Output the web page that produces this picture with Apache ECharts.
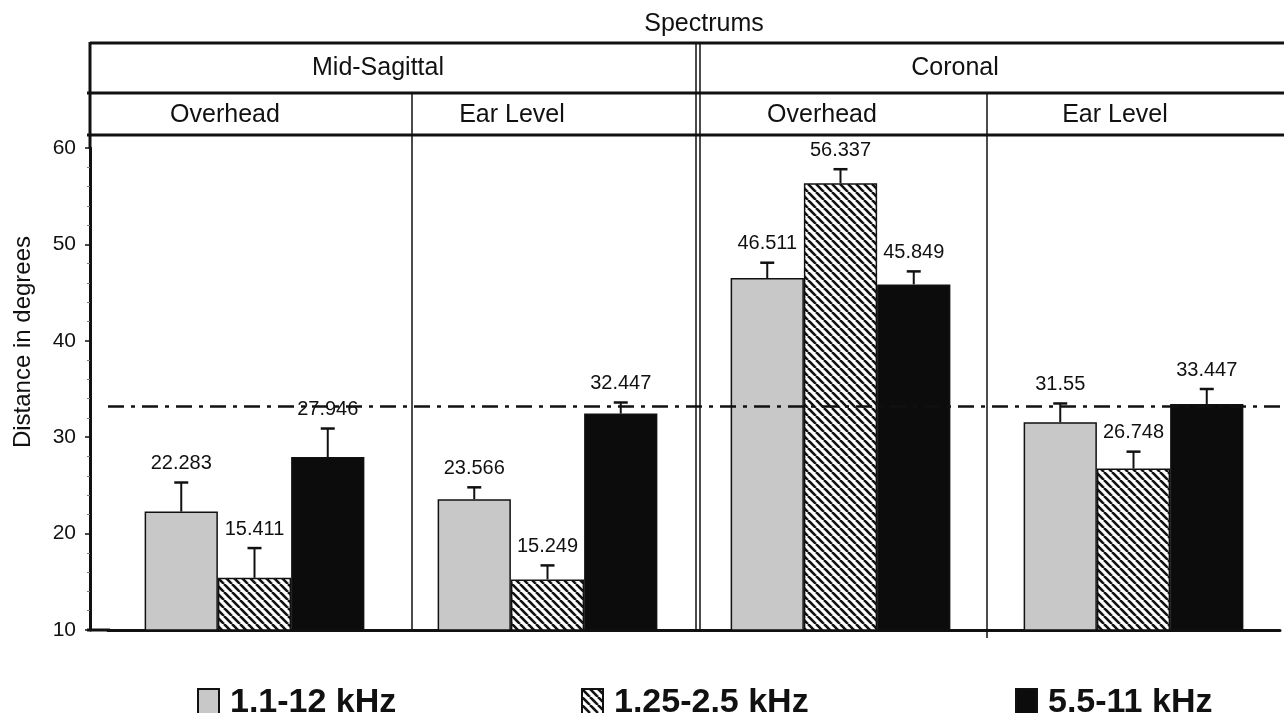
<!DOCTYPE html>
<html lang="en">
<head>
<meta charset="UTF-8" />
<title>Spectrums</title>
<script src="https://cdn.jsdelivr.net/npm/echarts@6/dist/echarts.min.js"></script>
</head>
<body style="margin:0;background:#fff">
<div id="main" style="width:1284px;height:713px"></div>
<script>
// data
var categories = ["Mid-Sagittal Overhead", "Mid-Sagittal Ear Level", "Coronal Overhead", "Coronal Ear Level"];
var seriesNames = ["1.1-12 kHz", "1.25-2.5 kHz", "5.5-11 kHz"];
var lowBand = [22.283, 23.566, 46.511, 31.55];
var midBand = [15.411, 15.249, 56.337, 26.748];
var highBand = [27.946, 32.447, 45.849, 33.447];
// top of each error bar
var lowErr = [25.3, 24.8, 48.1, 33.5];
var midErr = [18.5, 16.7, 57.8, 28.5];
var highErr = [30.9, 33.6, 47.2, 35.0];
var refLine = 33.2;
var yMin = 10, yMax = 60, yStep = 10;

var FONT = '"Liberation Sans", Arial, sans-serif';
var INK = "#111";

// hatch pattern for the middle band
function hatch() {
  var s = 8;
  var c = document.createElement("canvas");
  c.width = s;
  c.height = s;
  var g = c.getContext("2d");
  g.fillStyle = "#fff";
  g.fillRect(0, 0, s, s);
  g.strokeStyle = INK;
  g.lineWidth = 2.6;
  [-s, 0, s].forEach(function (o) {
    g.beginPath();
    g.moveTo(o, 0);
    g.lineTo(o + s, s);
    g.stroke();
  });
  return { image: c, repeat: "repeat" };
}

var fills = ["#c8c8c8", hatch(), "#0c0c0c"];
var values = [lowBand, midBand, highBand];
var errors = [lowErr, midErr, highErr];

function errorItem(slot) {
  return function (params, api) {
    var w = (api.size([1, 0])[0] * 0.75) / 3;
    var x = api.coord([api.value(0), 0])[0] + (slot - 1) * w;
    var yBar = api.coord([0, api.value(1)])[1];
    var yTop = api.coord([0, api.value(2)])[1];
    return {
      type: "group",
      children: [
        { type: "line", shape: { x1: x, y1: yBar, x2: x, y2: yTop }, style: { stroke: INK, lineWidth: 2 } },
        { type: "line", shape: { x1: x - 7, y1: yTop, x2: x + 7, y2: yTop }, style: { stroke: INK, lineWidth: 2.5 } },
        {
          type: "text",
          x: x,
          y: yTop - 9,
          style: { text: String(api.value(1)), align: "center", verticalAlign: "bottom", fill: INK, font: "20px " + FONT }
        }
      ]
    };
  };
}

var series = [];
values.forEach(function (vals, k) {
  var s = {
    name: seriesNames[k],
    type: "bar",
    data: vals,
    barGap: "0%",
    barCategoryGap: "25%",
    itemStyle: { color: fills[k], borderColor: INK, borderWidth: 1.5 }
  };
  if (k === 0) {
    s.markLine = {
      silent: true,
      symbol: "none",
      z: 5,
      label: { show: false },
      lineStyle: { color: INK, width: 2.5, type: [16, 7, 4, 7] },
      data: [{ yAxis: refLine }]
    };
  }
  series.push(s);
});
values.forEach(function (vals, k) {
  series.push({
    name: "err" + k,
    type: "custom",
    z: 4,
    renderItem: errorItem(k),
    data: vals.map(function (v, i) { return [i, v, errors[k][i]]; })
  });
});

// table frame above the plot
function seg(x1, y1, x2, y2, w) {
  return { type: "line", silent: true, z: 10, shape: { x1: x1, y1: y1, x2: x2, y2: y2 }, style: { stroke: INK, lineWidth: w } };
}
function txt(t, x, y, size) {
  return { type: "text", silent: true, z: 10, x: x, y: y, style: { text: t, align: "center", verticalAlign: "middle", fill: INK, font: size + "px " + FONT } };
}

var graphics = [
  seg(90, 43, 1284, 43, 3),
  seg(87, 93, 1284, 93, 3),
  seg(87, 135, 1284, 135, 3),
  seg(90, 42, 90, 149, 3),
  seg(87, 630, 110, 630, 3),
  seg(412, 93, 412, 630, 1.5),
  seg(696, 43, 696, 630, 1.5),
  seg(700, 43, 700, 630, 1.5),
  seg(987, 93, 987, 638, 1.5),
  txt("Spectrums", 704, 24, 25),
  txt("Mid-Sagittal", 378, 68, 25),
  txt("Coronal", 955, 68, 25),
  txt("Overhead", 225, 115, 25),
  txt("Ear Level", 512, 115, 25),
  txt("Overhead", 822, 115, 25),
  txt("Ear Level", 1115, 115, 25),
  {
    type: "text",
    silent: true,
    x: 23,
    y: 342,
    rotation: Math.PI / 2,
    style: { text: "Distance in degrees", align: "center", verticalAlign: "middle", fill: INK, font: "24px " + FONT }
  }
];

var legendLeft = [192, 576, 1010];

var chart = echarts.init(document.getElementById("main"));
chart.setOption({
  animation: false,
  backgroundColor: "#fff",
  grid: { left: 108, right: 4, top: 148, bottom: 83 },
  xAxis: {
    type: "category",
    data: categories,
    axisLine: { lineStyle: { color: INK, width: 3 } },
    axisTick: { show: false },
    axisLabel: { show: false }
  },
  yAxis: {
    type: "value",
    min: yMin,
    max: yMax,
    interval: yStep,
    offset: 18,
    axisLine: { show: true, lineStyle: { color: INK, width: 3 } },
    axisTick: { show: true, length: 5, lineStyle: { color: INK, width: 1.5 } },
    minorTick: { show: true, splitNumber: 5, length: 3, lineStyle: { color: "#777" } },
    splitLine: { show: false },
    axisLabel: { color: INK, fontSize: 21, fontFamily: FONT, margin: 14 }
  },
  legend: seriesNames.map(function (name, i) {
    return {
      data: [{ name: name, icon: "rect" }],
      left: legendLeft[i],
      top: 681,
      itemWidth: 21,
      itemHeight: 28,
      selectedMode: false,
      textStyle: { color: INK, fontSize: 34, fontWeight: "bold", fontFamily: FONT, padding: [0, 0, 0, 6] }
    };
  }),
  graphic: graphics,
  series: series
});
</script>
</body>
</html>
